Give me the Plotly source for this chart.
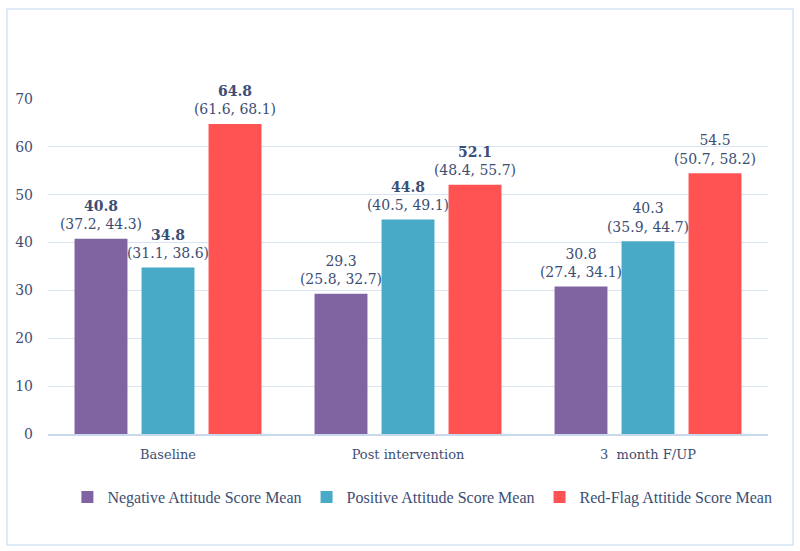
import plotly.graph_objects as go

categories = ["Baseline", "Post intervention", "3  month F/UP"]
series_names = ["Negative Attitude Score Mean", "Positive Attitude Score Mean", "Red-Flag Attitide Score Mean"]
negative = [40.8, 29.3, 30.8]
positive = [34.8, 44.8, 40.3]
redflag = [64.8, 52.1, 54.5]
negative_ci = [(37.2, 44.3), (25.8, 32.7), (27.4, 34.1)]
positive_ci = [(31.1, 38.6), (40.5, 49.1), (35.9, 44.7)]
redflag_ci = [(61.6, 68.1), (48.4, 55.7), (50.7, 58.2)]
negative_bold = [True, False, False]
positive_bold = [True, True, False]
redflag_bold = [True, True, False]
y_ticks = [0, 10, 20, 30, 40, 50, 60, 70]

colors = ["#8064A2", "#48AAC6", "#FF5353"]
text_color = "#3D4E74"
serif = "Liberation Serif, DejaVu Serif, serif"
wide_serif = "DejaVu Serif, Liberation Serif, serif"


def labels(vals, cis, bolds):
    out = []
    for v, (lo, hi), b in zip(vals, cis, bolds):
        top = f"<b>{v:.1f}</b>" if b else f"{v:.1f}"
        out.append(f"{top}<br>({lo:.1f}, {hi:.1f})")
    return out


series = [
    (series_names[0], negative, negative_ci, negative_bold, colors[0]),
    (series_names[1], positive, positive_ci, positive_bold, colors[1]),
    (series_names[2], redflag, redflag_ci, redflag_bold, colors[2]),
]

fig = go.Figure()
for i, (name, vals, cis, bolds, col) in enumerate(series):
    fig.add_trace(go.Bar(
        x=categories, y=vals, name=name,
        marker=dict(color=col, line=dict(width=0)),
        offsetgroup=str(i),
        hoverinfo="skip",
    ))
for i, (name, vals, cis, bolds, col) in enumerate(series):
    fig.add_trace(go.Scatter(
        x=categories, y=vals, mode="text+markers",
        marker=dict(size=8, opacity=0),
        text=labels(vals, cis, bolds),
        textposition="top center",
        textfont=dict(family=wide_serif, size=14, color=text_color),
        offsetgroup=str(i),
        showlegend=False, cliponaxis=False, hoverinfo="skip",
    ))

fig.update_layout(
    width=800, height=551,
    paper_bgcolor="white", plot_bgcolor="white",
    margin=dict(l=48, r=32, t=99, b=117),
    barmode="group", bargap=0.1625, bargroupgap=0.21,
    scattermode="group", scattergap=0.1625,
    font=dict(family=serif, color=text_color),
    showlegend=True,
    legend=dict(
        orientation="h", x=0.52, xanchor="center", y=-0.188, yanchor="middle",
        font=dict(family=serif, size=16, color=text_color),
        itemwidth=30, traceorder="normal",
    ),
    yaxis=dict(
        range=[0, 70], tickvals=y_ticks, showgrid=True, gridcolor="#D9E4F2", gridwidth=1,
        zeroline=False, showline=False, ticklabelstandoff=14,
        tickfont=dict(family=wide_serif, size=14, color=text_color),
    ),
    xaxis=dict(
        showline=True, linecolor="#C9D8EC", linewidth=1.5, ticks="",
        tickfont=dict(family=wide_serif, size=13, color=text_color),
        ticklabelstandoff=8,
    ),
    shapes=[dict(
        type="rect", xref="paper", yref="paper",
        x0=(7 - 48) / 720, x1=(793 - 48) / 720,
        y0=(434 - 545) / 335, y1=(434 - 9) / 335,
        line=dict(color="#D6E3F5", width=1.5), fillcolor="rgba(0,0,0,0)",
    )],
)

fig.write_html(
    "out.html",
    config={"displayModeBar": False},
    post_script="document.body.style.margin='0';document.body.style.overflow='hidden';",
)
